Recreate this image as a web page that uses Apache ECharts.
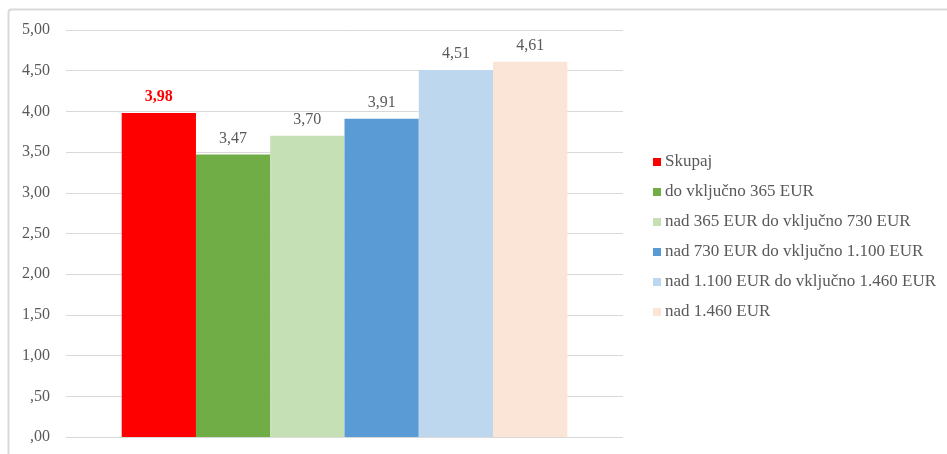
<!DOCTYPE html>
<html>
<head>
<meta charset="utf-8">
<style>
  html, body { margin: 0; padding: 0; background: #ffffff; }
  #chart { width: 947px; height: 454px; }
</style>
<script src="https://cdn.jsdelivr.net/npm/echarts@6/dist/echarts.min.js"></script>
</head>
<body>
<div id="chart"></div>
<script>
// Income brackets and their average values
const seriesNames = [
  'Skupaj',
  'do vključno 365 EUR',
  'nad 365 EUR do vključno 730 EUR',
  'nad 730 EUR do vključno 1.100 EUR',
  'nad 1.100 EUR do vključno 1.460 EUR',
  'nad 1.460 EUR'
];
const seriesValues = [3.98, 3.47, 3.70, 3.91, 4.51, 4.61];
const seriesColors = ['#FF0000', '#70AD47', '#C5E0B4', '#5B9BD5', '#BDD7EE', '#FBE5D6'];
const categories = [''];

const FONT = '"Liberation Serif", "Times New Roman", serif';
const fmt = v => {
  const s = v.toFixed(2).replace('.', ',');
  return s.startsWith('0,') ? s.slice(1) : s;
};

const series = seriesNames.map((name, i) => ({
  name,
  type: 'bar',
  data: [seriesValues[i]],
  barGap: '0%',
  barCategoryGap: '20%',
  itemStyle: { color: seriesColors[i] },
  label: {
    show: true,
    position: 'top',
    distance: 8,
    formatter: p => fmt(p.value),
    fontFamily: FONT,
    fontSize: 16,
    color: i === 0 ? '#FF0000' : '#595959',
    fontWeight: i === 0 ? 'bold' : 'normal'
  }
}));

const chart = echarts.init(document.getElementById('chart'), null, { renderer: 'canvas' });
chart.setOption({
  animation: false,
  backgroundColor: '#ffffff',
  textStyle: { fontFamily: FONT },
  graphic: [{
    type: 'rect',
    shape: { x: 8.5, y: 9.5, width: 1200, height: 1200, r: 3 },
    style: { fill: 'none', stroke: '#d9d9d9', lineWidth: 2 },
    silent: true,
    z: -10
  }],
  grid: { left: 66, right: 324, top: 30, bottom: 17 },
  legend: {
    orient: 'vertical',
    left: 648,
    top: 147,
    itemWidth: 8,
    itemHeight: 8,
    itemGap: 10,
    icon: 'rect',
    textStyle: {
      fontFamily: FONT, fontSize: 17, lineHeight: 20,
      color: '#595959', padding: [0, 0, 0, -1]
    },
    data: seriesNames
  },
  xAxis: {
    type: 'category',
    data: categories,
    axisLine: { show: false },
    axisTick: { show: false },
    axisLabel: { show: false }
  },
  yAxis: {
    type: 'value',
    min: 0,
    max: 5,
    interval: 0.5,
    axisLine: { show: false },
    axisTick: { show: false },
    axisLabel: {
      formatter: v => fmt(v),
      fontFamily: FONT,
      fontSize: 16,
      color: '#595959',
      margin: 16
    },
    splitLine: { lineStyle: { color: '#d9d9d9', width: 1 } }
  },
  series
});
</script>
</body>
</html>
